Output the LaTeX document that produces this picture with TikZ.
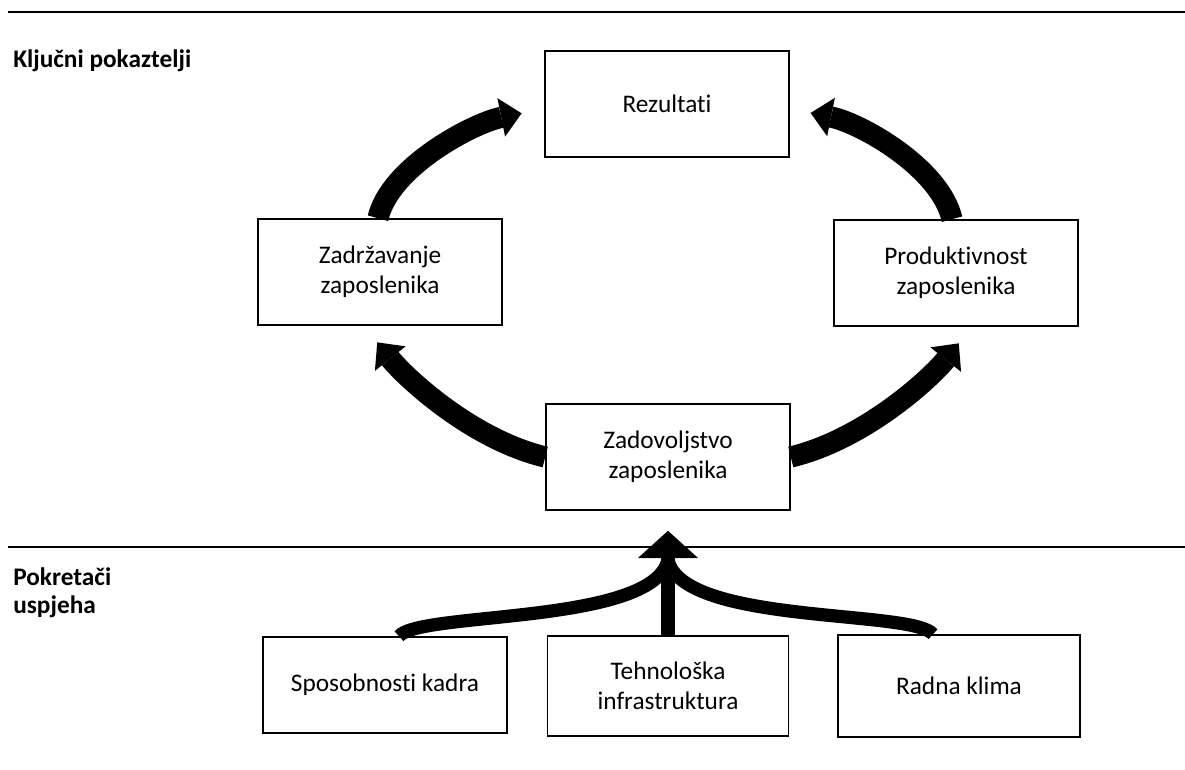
\documentclass[tikz,border=0pt]{standalone}
\usepackage{fontspec}
\setmainfont{Carlito}[Ligatures=NoCommon]
\usetikzlibrary{positioning, arrows.meta}

\begin{document}
\begin{tikzpicture}[x=0.025cm, y=0.025cm,
	box/.style={draw, rectangle, line width=1.1pt, minimum height=2.65cm, 
	minimum width=6.1cm, align=flush center, text width=5.8cm, font=\fontsize{18}{21}\selectfont},
	sidetext/.style={font=\bfseries\fontsize{18}{20}\selectfont},
	bigarrow/.style={line width=0.53cm, -{Triangle[width=0.98cm, length=0.52cm, line width=0pt]}},
	thinarrow/.style={line width=0.33cm}]
		\useasboundingbox (0,0) rectangle (1185,-770);
		
		%Separating lines
		\draw[line width=1.2pt] (8,-12) -- (1185,-12);
		\draw[line width=1.2pt] (8,-547) -- (1185,-547);
		
		%Writing on the left side
		\node (Kljucni) at (13,-67) [sidetext, anchor=base west, inner sep=0pt]{Ključni pokaztelji};
		\node (Pokretaci) at (13,-567) [sidetext, anchor=north west, inner sep=0pt, text width=4cm, 
		align=flush left]{Pokretači\\uspjeha};
		
		%Key indicator blocks
		\node (Rezultati) at (667,-104) [box]{Rezultati};
		\node (Zadrzavanje) at (380,-272) [box]{Zadržavanje\\zaposlenika};
		\node (Produktivnost) at (956,-273) [box]{Produktivnost\\zaposlenika};
		\node (Zadovoljstvo) at (668,-457) [box]{Zadovoljstvo\\zaposlenika};
		
		%Driver blocks
		\node (Sposobnosti kadra) at (385,-685) [box, minimum height=2.4cm]{Sposobnosti kadra};
		\node (Tehnoloska infrastruktura) at (668,-686) [box, minimum width=5.85cm, 
		minimum height=2.5cm]{Tehnološka\\infrastruktura};
		\node (Radna klima) at (959,-686) [box, minimum width=6.05cm, minimum height=2.55cm]{Radna klima};
		\coordinate (merge) at (668,-560);
		
		%Links among key indicators
		\draw[bigarrow, shorten >=0.575cm] ([xshift=-0.05cm]Zadrzavanje.north) .. controls +(12,52) and +(-70,-14) 
		.. ([yshift=-0.12cm]Rezultati.west);
		\draw[bigarrow, shorten >=0.53cm] ([xshift=-0.1cm]Produktivnost.north) .. controls +(-12,52) and +(70,-14) 
		.. ([yshift=-0.12cm]Rezultati.east);
		\draw[bigarrow, shorten >=0.53cm] (Zadovoljstvo.west) .. controls +(-75,18) and +(40,-50) 
		.. ([xshift=-0.4cm]Zadrzavanje.south);
		\draw[bigarrow, shorten >=0.53cm] (Zadovoljstvo.east) .. controls +(75,18) and +(-40,-50) 
		.. ([xshift=0.4cm]Produktivnost.south);
		
		%Links from drivers
		\draw[thinarrow] ([xshift=0.35cm]Sposobnosti kadra.north) .. controls +(20,25) and +(-15,-65) 
		.. (merge);
		\draw[thinarrow] ([xshift=-0.65cm]Radna klima.north) .. controls +(-20,25) and +(15,-65) 
		.. (merge);
		\draw[thinarrow, -{Triangle[width=1.5cm, length=0.68cm, line width=0pt]}, shorten >=0.5cm] 
		(Tehnoloska infrastruktura.north) -- (Zadovoljstvo.south);
		
\end{tikzpicture}
\end{document}
